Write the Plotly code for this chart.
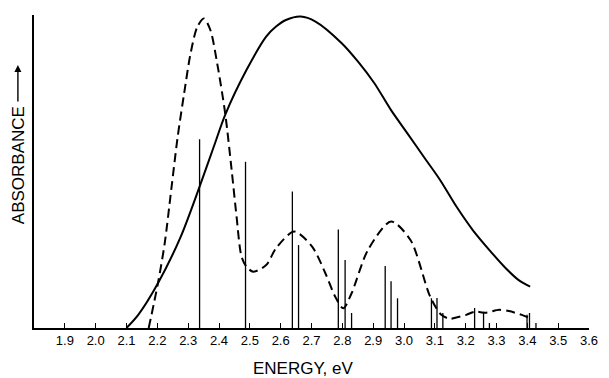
import plotly.graph_objects as go

# Broad measured absorption band (solid) -- energy in eV, absorbance in arbitrary units
band_energy = [2.100, 2.138, 2.202, 2.276, 2.335, 2.383, 2.420, 2.489, 2.553, 2.585,
               2.617, 2.665, 2.713, 2.798, 2.851, 2.904, 2.958, 3.011, 3.064, 3.117,
               3.170, 3.223, 3.277, 3.330, 3.372, 3.409]
band_absorb = [0.0, 4.2, 14.3, 29.2, 44.6, 57.9, 68.1, 82.4, 93.1, 96.3,
               98.4, 99.5, 97.9, 91.0, 85.1, 78.2, 69.6, 62.2, 54.7, 47.3,
               38.8, 31.3, 24.9, 19.1, 15.3, 13.2]

# Calculated envelope (dashed)
calc_energy = [2.172, 2.202, 2.224, 2.245, 2.266, 2.287, 2.308, 2.330, 2.351, 2.372,
               2.394, 2.420, 2.441, 2.457, 2.473, 2.489, 2.511, 2.553, 2.585, 2.644,
               2.702, 2.745, 2.777, 2.803, 2.830, 2.883, 2.958, 3.021, 3.085, 3.121,
               3.149, 3.160, 3.202, 3.229, 3.266, 3.309, 3.340, 3.382, 3.408]
calc_absorb = [0.0, 14.3, 27.1, 44.1, 61.1, 75.0, 87.8, 96.3, 98.9, 95.2,
               84.6, 68.6, 50.5, 35.6, 22.8, 19.6, 18.0, 20.1, 25.5, 30.8,
               26.0, 17.5, 10.0, 6.3, 11.1, 24.9, 34.0, 28.1, 10.0, 4.2,
               2.9, 3.1, 4.2, 5.2, 4.9, 5.8, 5.4, 4.2, 3.2]

# Individual transition energies and strengths (stick spectrum)
line_energy = [2.337, 2.486, 2.638, 2.658, 2.787, 2.809, 2.830, 2.939, 2.958, 2.979,
               3.089, 3.107, 3.126, 3.229, 3.258, 3.277, 3.399, 3.407, 3.428]
line_strength = [60.3, 53.1, 43.6, 26.5, 31.5, 21.7, 4.8, 19.8, 14.9, 9.5,
                 9.5, 9.6, 4.8, 6.4, 5.2, 1.6, 4.2, 4.8, 1.6]

tick_values = [1.9, 2.0, 2.1, 2.2, 2.3, 2.4, 2.5, 2.6, 2.7, 2.8, 2.9,
               3.0, 3.1, 3.2, 3.3, 3.4, 3.5, 3.6]
tick_labels = ["1.9", "2.0", "2.1", "2.2", "2.3", "2.4", "2.5", "2.6", "2.7", "2.8",
               "2.9", "3.0", "3.1", "3.2", "3.3", "3.4", "3.5", "3.6"]

stick_x, stick_y = [], []
for e, h in zip(line_energy, line_strength):
    stick_x += [e, e, None]
    stick_y += [0, h, None]

fig = go.Figure()
fig.add_trace(go.Scatter(x=stick_x, y=stick_y, mode="lines",
                         line=dict(color="black", width=1.3), hoverinfo="skip"))
fig.add_trace(go.Scatter(x=calc_energy, y=calc_absorb, mode="lines",
                         line=dict(color="black", width=2, dash="9px,5px",
                                   shape="spline", smoothing=0.8)))
fig.add_trace(go.Scatter(x=band_energy, y=band_absorb, mode="lines",
                         line=dict(color="black", width=2,
                                   shape="spline", smoothing=0.8)))

font = "Liberation Sans, Arial, sans-serif"
fig.update_layout(
    width=609, height=378,
    margin=dict(l=34, r=11, t=15, b=50),
    paper_bgcolor="white", plot_bgcolor="white",
    showlegend=False,
    font=dict(family=font, color="black", size=13),
    xaxis=dict(range=[1.8, 3.6], tickvals=tick_values, ticktext=tick_labels,
               ticks="inside", ticklen=5, tickwidth=1.3, tickcolor="black",
               showline=True, linecolor="black", linewidth=1.6,
               showgrid=False, zeroline=False,
               tickfont=dict(size=13, family=font)),
    yaxis=dict(range=[0, 100], showticklabels=False, ticks="",
               showline=True, linecolor="black", linewidth=1.6,
               showgrid=False, zeroline=False),
)

# Axis captions
fig.add_annotation(xref="paper", yref="paper", x=0.486, y=-0.128,
                   text="ENERGY, eV", showarrow=False,
                   font=dict(size=17, family=font), xanchor="center", yanchor="middle")
fig.add_annotation(xref="paper", yref="paper", x=-0.029, y=0.52,
                   text="ABSORBANCE", textangle=-90, showarrow=False,
                   font=dict(size=17, family=font), xanchor="center", yanchor="middle")
fig.add_annotation(xref="paper", yref="paper", x=-0.029, y=0.84,
                   ax=0, ay=38, text="", showarrow=True,
                   arrowhead=2, arrowsize=1, arrowwidth=1.4, arrowcolor="black")

fig.write_html("out.html")
